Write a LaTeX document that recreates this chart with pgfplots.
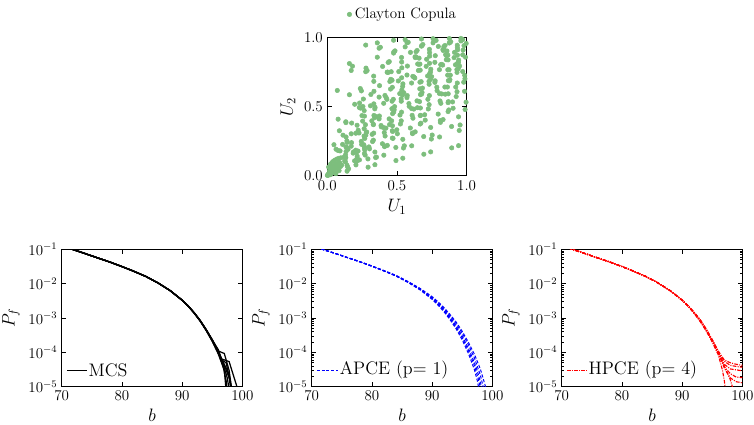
\documentclass[border=0pt]{standalone}
\usepackage{pgfplots}
\pgfplotsset{compat=1.18}
\definecolor{cgreen}{RGB}{125,190,125}

\tikzset{
  mcs/.style={black, line width=1.0pt},
  apce/.style={blue, line width=0.8pt, dash pattern=on 2.5pt off 1.5pt},
  hpce/.style={red, line width=0.9pt, dash pattern=on 3pt off 1pt on 0.8pt off 1pt},
  legtext/.style={anchor=west, text=black, inner sep=1pt, font=\fontsize{14.5}{16}\selectfont},
}
\pgfplotsset{
  mypanel/.style={
    scale only axis, width=144.5pt, height=109.9pt,
    xmin=70, xmax=100, ymin=1e-5, ymax=1e-1,
    xtick={70,80,90,100}, ytick={1e-5,1e-4,1e-3,1e-2,1e-1},
    tick align=inside, major tick length=3.6pt, minor tick length=1.8pt,
    axis line style={line width=0.8pt},
    tick style={line width=0.6pt, black},
    tick label style={font=\fontsize{12}{14}\selectfont},
    label style={font=\fontsize{14}{16}\selectfont},
    xlabel={$b$}, ylabel={$P_f$},
  },
}

\begin{document}
\begin{tikzpicture}
\useasboundingbox (0,0) rectangle (603.2pt,-340pt);

% ---- copula samples
\begin{axis}[
  at={(261.8pt,-140.6pt)}, anchor=south west,
  scale only axis, width=111.5pt, height=110.4pt,
  xmin=0, xmax=1, ymin=0, ymax=1,
  xtick={0,0.5,1}, ytick={0,0.5,1},
  xticklabels={0.0,0.5,1.0}, yticklabels={0.0,0.5,1.0},
  tick align=inside, major tick length=3.6pt,
  axis line style={line width=0.8pt},
  tick style={line width=0.6pt, black},
  tick label style={font=\fontsize{12}{14}\selectfont},
  label style={font=\fontsize{14}{16}\selectfont},
  xlabel={$U_1$}, ylabel={$U_2$},
  legend style={at={(0.5,1)}, anchor=south, xshift=5pt, yshift=9pt, draw=none, fill=none,
    nodes={inner sep=2.5pt}},
]
\addplot[only marks, mark=*, mark size=1.8pt, color=cgreen] table {
x y
.062 .015
.024 .008
.085 .037
.047 .023
.009 .005
.071 .043
.033 .021
.094 .066
.056 .042
.018 .014
.080 .066
.042 .037
.003 .003
.065 .063
.027 .027
.089 .094
.051 .057
.012 .015
.074 .090
.036 .046
.098 .130
.060 .083
.021 .031
.083 .126
.045 .072
.007 .012
.069 .121
.030 .057
.092 .180
.054 .113
.016 .036
.078 .183
.039 .102
.001 .003
.063 .192
.025 .086
.087 .326
.048 .225
.010 .063
.072 .618
.142 .033
.147 .062
.153 .050
.142 .076
.211 .105
.103 .078
.196 .108
.099 .074
.125 .106
.215 .142
.131 .100
.122 .137
.221 .179
.133 .130
.188 .173
.080 .118
.186 .164
.172 .214
.131 .152
.140 .205
.130 .135
.149 .192
.141 .253
.135 .176
.143 .242
.228 .310
.110 .227
.172 .304
.134 .209
.113 .294
.175 .382
.135 .281
.134 .385
.238 .490
.133 .391
.197 .518
.078 .410
.159 .587
.172 .763
.159 .813
.293 .062
.206 .079
.292 .122
.212 .122
.231 .115
.267 .161
.272 .150
.267 .201
.269 .187
.209 .169
.247 .227
.268 .208
.205 .185
.244 .249
.262 .225
.277 .294
.269 .270
.174 .240
.283 .317
.264 .288
.274 .370
.265 .341
.205 .308
.320 .398
.214 .366
.222 .330
.267 .432
.254 .396
.256 .502
.265 .472
.249 .436
.259 .556
.232 .527
.230 .495
.237 .632
.245 .615
.276 .754
.286 .762
.181 .794
.276 .947
.342 .080
.347 .132
.353 .135
.342 .172
.411 .211
.303 .195
.396 .232
.299 .209
.325 .248
.415 .288
.331 .258
.322 .300
.421 .345
.333 .309
.388 .354
.280 .315
.386 .364
.372 .412
.331 .370
.340 .421
.330 .374
.349 .429
.341 .485
.335 .437
.343 .496
.428 .554
.310 .507
.372 .570
.334 .521
.313 .589
.375 .653
.335 .612
.334 .684
.438 .749
.333 .722
.397 .792
.278 .780
.359 .859
.372 .924
.359 .963
.493 .110
.406 .149
.492 .205
.412 .216
.431 .220
.467 .273
.472 .271
.467 .326
.469 .321
.409 .313
.447 .371
.468 .362
.405 .349
.444 .412
.462 .398
.477 .462
.469 .450
.374 .433
.483 .501
.464 .486
.474 .554
.465 .540
.405 .525
.520 .595
.414 .582
.422 .567
.467 .641
.454 .628
.456 .699
.465 .692
.449 .683
.459 .754
.432 .751
.430 .750
.437 .821
.445 .827
.476 .889
.486 .905
.381 .931
.476 .982
.542 .127
.547 .201
.553 .217
.542 .264
.611 .310
.503 .304
.596 .346
.499 .333
.525 .375
.615 .417
.531 .398
.522 .440
.621 .483
.533 .461
.588 .503
.480 .478
.586 .523
.572 .566
.531 .540
.540 .584
.530 .557
.549 .602
.541 .647
.535 .621
.543 .666
.628 .708
.510 .687
.572 .730
.534 .710
.513 .755
.575 .795
.535 .782
.534 .824
.638 .861
.533 .857
.597 .894
.478 .898
.559 .934
.572 .965
.559 .986
.693 .156
.606 .217
.692 .284
.612 .305
.631 .318
.667 .375
.672 .381
.667 .436
.669 .438
.609 .438
.647 .493
.668 .491
.605 .487
.644 .543
.662 .537
.677 .592
.669 .588
.574 .581
.683 .635
.664 .630
.674 .682
.665 .678
.605 .672
.720 .723
.614 .720
.622 .716
.667 .765
.654 .763
.656 .808
.665 .809
.649 .810
.659 .852
.632 .856
.630 .862
.637 .899
.645 .908
.676 .939
.686 .951
.581 .967
.676 .991
.742 .173
.747 .266
.753 .295
.742 .350
.811 .400
.703 .403
.796 .447
.699 .442
.725 .484
.815 .525
.731 .515
.722 .554
.821 .593
.733 .581
.788 .617
.680 .604
.786 .642
.772 .677
.731 .663
.740 .698
.730 .684
.749 .718
.741 .752
.735 .740
.743 .772
.828 .802
.710 .793
.772 .822
.734 .815
.713 .844
.775 .870
.735 .867
.734 .892
.838 .915
.733 .916
.797 .937
.678 .943
.759 .963
.772 .980
.759 .993
.893 .202
.806 .281
.892 .357
.812 .387
.831 .407
.867 .465
.872 .477
.867 .530
.869 .537
.809 .542
.847 .591
.868 .594
.805 .596
.844 .643
.862 .643
.877 .688
.869 .689
.774 .688
.883 .729
.864 .729
.874 .768
.865 .768
.805 .769
.920 .804
.814 .805
.822 .807
.867 .840
.854 .841
.856 .871
.865 .874
.849 .878
.859 .904
.832 .908
.830 .915
.837 .937
.845 .944
.876 .962
.886 .971
.781 .981
.876 .994
.942 .218
.947 .328
.953 .368
.942 .427
.989 .480
.903 .489
.996 .533
.899 .535
.925 .574
.985 .612
.931 .609
.922 .643
.979 .678
.933 .672
.988 .703
.880 .697
.986 .728
.972 .755
.931 .749
.940 .776
.930 .769
.949 .795
.941 .820
.935 .815
.943 .838
.992 .859
.910 .856
.972 .876
.934 .874
.913 .894
.975 .911
.935 .912
.934 .928
.981 .943
.933 .946
.997 .959
.878 .964
.959 .977
.972 .987
.959 .995
};
\addlegendentry{\fontsize{12}{14}\selectfont Clayton Copula}
\end{axis}

% ---- MCS
\begin{axis}[mypanel, ymode=log, at={(49.4pt,-309.4pt)}, anchor=south west, yminorticks=false]
\addplot[mcs] coordinates {(70,1.29e-1) (71.8,1.0e-1) (74,7.41e-2) (76,5.62e-2) (78,4.27e-2) (80,3.16e-2) (82,2.29e-2) (84,1.62e-2) (86,1.05e-2) (88,6.31e-3) (90,3.31e-3) (91,2.24e-3) (92,1.41e-3) (93,8.32e-4) (94,4.47e-4) (95,2.24e-4) (96,1.00e-4) (97,3.55e-5) (97.5,1.78e-5) (98,5e-6)};
\addplot[mcs] coordinates {(70,1.29e-1) (71.8,1.0e-1) (74,7.41e-2) (76,5.62e-2) (78,4.27e-2) (80,3.16e-2) (82,2.29e-2) (84,1.62e-2) (86,1.05e-2) (88,6.31e-3) (90,3.31e-3) (91,2.24e-3) (92,1.42e-3) (93,8.5e-4) (94,4.6e-4) (95,2.3e-4) (96,1.1e-4) (97,4.2e-5) (98,1.5e-5) (98.3,5e-6)};
\addplot[mcs] coordinates {(70,1.29e-1) (71.8,1.0e-1) (74,7.41e-2) (76,5.62e-2) (78,4.27e-2) (80,3.16e-2) (82,2.29e-2) (84,1.62e-2) (86,1.05e-2) (88,6.31e-3) (90,3.30e-3) (91,2.22e-3) (92,1.39e-3) (93,8.1e-4) (94,4.3e-4) (95,2.1e-4) (96,9.0e-5) (97,3.0e-5) (97.4,5e-6)};
\addplot[mcs] coordinates {(70,1.29e-1) (71.8,1.0e-1) (74,7.41e-2) (76,5.62e-2) (78,4.27e-2) (80,3.16e-2) (82,2.29e-2) (84,1.62e-2) (86,1.05e-2) (88,6.31e-3) (90,3.32e-3) (91,2.25e-3) (92,1.42e-3) (93,8.4e-4) (94,4.5e-4) (95,2.3e-4) (96,1.2e-4) (96.6,6e-5) (97.3,5.0e-5) (97.8,2.0e-5) (98.2,5e-6)};
\addplot[mcs] coordinates {(70,1.29e-1) (71.8,1.0e-1) (74,7.41e-2) (76,5.62e-2) (78,4.27e-2) (80,3.16e-2) (82,2.29e-2) (84,1.62e-2) (86,1.05e-2) (88,6.31e-3) (90,3.31e-3) (91,2.24e-3) (92,1.41e-3) (93,8.3e-4) (94,4.5e-4) (95,2.2e-4) (96,1.05e-4) (96.5,6.5e-5) (97.8,5.4e-5) (99.1,1e-5) (99.3,5e-6)};
\addplot[mcs] coordinates {(70,1.29e-1) (71.8,1.0e-1) (74,7.41e-2) (76,5.62e-2) (78,4.27e-2) (80,3.16e-2) (82,2.29e-2) (84,1.62e-2) (86,1.05e-2) (88,6.31e-3) (90,3.30e-3) (91,2.23e-3) (92,1.40e-3) (93,8.2e-4) (94,4.4e-4) (95,2.15e-4) (96,9.5e-5) (97,4.5e-5) (97.5,3e-5) (98.6,5e-6)};
\addplot[mcs] coordinates {(70,1.29e-1) (71.8,1.0e-1) (74,7.41e-2) (76,5.62e-2) (78,4.27e-2) (80,3.16e-2) (82,2.29e-2) (84,1.62e-2) (86,1.05e-2) (88,6.31e-3) (90,3.31e-3) (91,2.24e-3) (92,1.41e-3) (93,8.35e-4) (94,4.5e-4) (95,2.25e-4) (96,1.0e-4) (96.8,4e-5) (97.3,1.5e-5) (97.6,5e-6)};
\addplot[mcs] coordinates {(70,1.29e-1) (71.8,1.0e-1) (74,7.41e-2) (76,5.62e-2) (78,4.27e-2) (80,3.16e-2) (82,2.29e-2) (84,1.62e-2) (86,1.05e-2) (88,6.31e-3) (90,3.32e-3) (91,2.25e-3) (92,1.43e-3) (93,8.45e-4) (94,4.55e-4) (95,2.35e-4) (96,1.1e-4) (97,9.3e-5) (97.8,3e-5) (98.4,5e-6)};
\draw[black, line width=0.7pt] (rel axis cs:0.029,0.1215) -- ++(16pt,0pt) node[legtext] {MCS};
\end{axis}

% ---- APCE
\begin{axis}[mypanel, ymode=log, at={(249.4pt,-309.4pt)}, anchor=south west]
\addplot[apce] coordinates {(70,1.29e-1) (71.8,1.0e-1) (74,7.5e-2) (76,5.7e-2) (78,4.35e-2) (80,3.24e-2) (82,2.37e-2) (84,1.70e-2) (86,1.12e-2) (88,6.9e-3) (90,3.8e-3) (91,2.6e-3) (92,1.7e-3) (93,1.05e-3) (94,5.9e-4) (95,3.0e-4) (96,1.35e-4) (97,5.2e-5) (97.5,2.9e-5) (98,1.4e-5) (98.3,8e-6)};
\addplot[apce] coordinates {(70,1.29e-1) (71.8,1.0e-1) (74,7.5e-2) (76,5.7e-2) (78,4.33e-2) (80,3.22e-2) (82,2.34e-2) (84,1.67e-2) (86,1.09e-2) (88,6.6e-3) (90,3.5e-3) (91,2.35e-3) (92,1.5e-3) (93,8.8e-4) (94,4.8e-4) (95,2.3e-4) (96,9.5e-5) (97,3.2e-5) (97.5,1.5e-5) (97.8,8e-6)};
\addplot[apce] coordinates {(70,1.29e-1) (71.8,1.0e-1) (74,7.5e-2) (76,5.72e-2) (78,4.37e-2) (80,3.26e-2) (82,2.39e-2) (84,1.72e-2) (86,1.14e-2) (88,7.1e-3) (90,4.0e-3) (91,2.8e-3) (92,1.85e-3) (93,1.15e-3) (94,6.8e-4) (95,3.6e-4) (96,1.7e-4) (97,7e-5) (98,2.2e-5) (98.6,8e-6)};
\addplot[apce] coordinates {(70,1.29e-1) (71.8,1.0e-1) (74,7.52e-2) (76,5.74e-2) (78,4.4e-2) (80,3.29e-2) (82,2.42e-2) (84,1.75e-2) (86,1.16e-2) (88,7.3e-3) (90,4.2e-3) (91,2.95e-3) (92,2.0e-3) (93,1.25e-3) (94,7.6e-4) (95,4.1e-4) (96,2.0e-4) (97,9.0e-5) (98,3.3e-5) (98.8,1.1e-5) (99.2,6e-6)};
\addplot[apce] coordinates {(70,1.29e-1) (71.8,1.0e-1) (74,7.5e-2) (76,5.69e-2) (78,4.34e-2) (80,3.23e-2) (82,2.35e-2) (84,1.68e-2) (86,1.10e-2) (88,6.75e-3) (90,3.65e-3) (91,2.45e-3) (92,1.6e-3) (93,9.5e-4) (94,5.3e-4) (95,2.65e-4) (96,1.15e-4) (97,4.2e-5) (97.7,1.6e-5) (98.1,8e-6)};
\draw[blue, line width=0.7pt, dash pattern=on 2.4pt off 1.4pt] (rel axis cs:0.029,0.1215) -- ++(17pt,0pt) node[legtext, solid] {APCE (p= 1)};
\end{axis}

% ---- HPCE
\begin{axis}[mypanel, ymode=log, at={(449.4pt,-309.4pt)}, anchor=south west]
\addplot[hpce] coordinates {(70,1.29e-1) (71.8,1.0e-1) (74,7.41e-2) (76,5.62e-2) (78,4.27e-2) (80,3.16e-2) (82,2.29e-2) (84,1.62e-2) (86,1.05e-2) (88,6.31e-3) (90,3.31e-3) (91,2.24e-3) (92,1.41e-3) (93,8.4e-4) (94,4.5e-4) (95,2.24e-4) (96,1.0e-4) (97,4e-5) (98,1.6e-5) (98.5,8e-6)};
\addplot[hpce] coordinates {(70,1.29e-1) (71.8,1.0e-1) (74,7.41e-2) (76,5.62e-2) (78,4.27e-2) (80,3.16e-2) (82,2.29e-2) (84,1.62e-2) (86,1.05e-2) (88,6.31e-3) (90,3.33e-3) (91,2.27e-3) (92,1.45e-3) (93,8.8e-4) (94,4.7e-4) (95,2.3e-4) (96,1.0e-4) (97,5.5e-5) (98,4.2e-5) (99,3.9e-5) (100,3.7e-5)};
\addplot[hpce] coordinates {(70,1.29e-1) (71.8,1.0e-1) (74,7.41e-2) (76,5.62e-2) (78,4.27e-2) (80,3.16e-2) (82,2.29e-2) (84,1.62e-2) (86,1.05e-2) (88,6.31e-3) (90,3.29e-3) (91,2.21e-3) (92,1.38e-3) (93,8.1e-4) (94,4.3e-4) (95,2.2e-4) (96,9.5e-5) (97,4.5e-5) (98,3.3e-5) (99,3.1e-5) (100,2.9e-5)};
\addplot[hpce] coordinates {(70,1.29e-1) (71.8,1.0e-1) (74,7.41e-2) (76,5.62e-2) (78,4.27e-2) (80,3.16e-2) (82,2.29e-2) (84,1.62e-2) (86,1.05e-2) (88,6.31e-3) (90,3.32e-3) (91,2.25e-3) (92,1.43e-3) (93,8.6e-4) (94,4.4e-4) (95,2.1e-4) (96,9e-5) (97,3.8e-5) (98,2.4e-5) (99,1.9e-5) (100,1.85e-5)};
\addplot[hpce] coordinates {(70,1.29e-1) (71.8,1.0e-1) (74,7.41e-2) (76,5.62e-2) (78,4.27e-2) (80,3.16e-2) (82,2.29e-2) (84,1.62e-2) (86,1.05e-2) (88,6.31e-3) (90,3.31e-3) (91,2.23e-3) (92,1.40e-3) (93,8.3e-4) (94,4.6e-4) (95,2.25e-4) (96,1.05e-4) (97,3.5e-5) (98,1.8e-5) (99,1.4e-5) (100,1.3e-5)};
\addplot[hpce] coordinates {(70,1.29e-1) (71.8,1.0e-1) (74,7.41e-2) (76,5.62e-2) (78,4.27e-2) (80,3.16e-2) (82,2.29e-2) (84,1.62e-2) (86,1.05e-2) (88,6.31e-3) (90,3.28e-3) (91,2.20e-3) (92,1.36e-3) (93,7.9e-4) (94,4.2e-4) (95,2.0e-4) (96,8.5e-5) (96.7,3e-5) (97,1.5e-5) (97.2,8e-6)};
\addplot[hpce] coordinates {(70,1.29e-1) (71.8,1.0e-1) (74,7.41e-2) (76,5.62e-2) (78,4.27e-2) (80,3.16e-2) (82,2.29e-2) (84,1.62e-2) (86,1.05e-2) (88,6.31e-3) (90,3.34e-3) (91,2.28e-3) (92,1.47e-3) (93,9.0e-4) (94,4.8e-4) (95,2.35e-4) (96,1.1e-4) (97,6e-5) (98,5e-5) (99,4.5e-5) (100,4.2e-5)};
\draw[red, line width=0.6pt, dash pattern=on 3pt off 1pt on 0.8pt off 1pt] (rel axis cs:0.029,0.1215) -- ++(16pt,0pt) node[legtext] {HPCE (p= 4)};
\end{axis}
\end{tikzpicture}
\end{document}
